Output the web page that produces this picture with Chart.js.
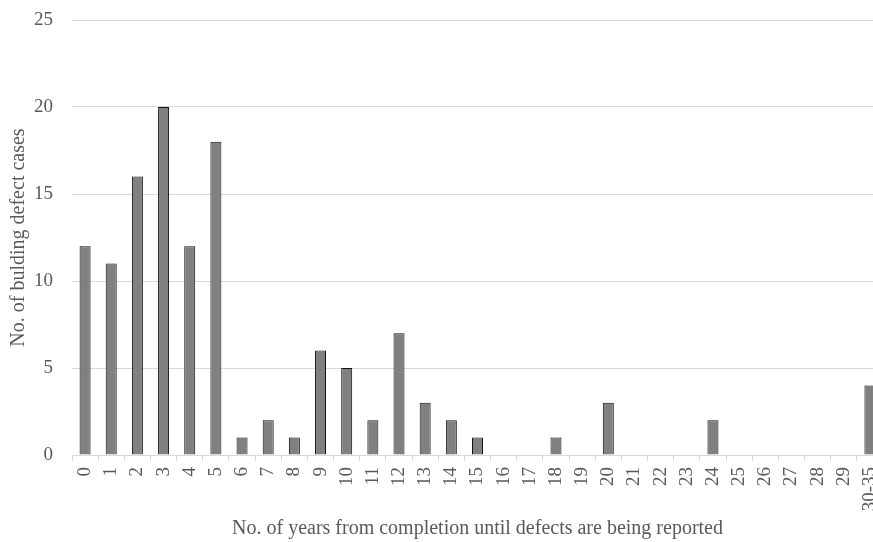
<!DOCTYPE html>
<html>
<head>
<meta charset="utf-8">
<script src="https://cdn.jsdelivr.net/npm/chart.js@4"></script>
<style>
  html, body { margin: 0; padding: 0; background: #fff; overflow: hidden; }
  #wrap { width: 873px; height: 542px; }
</style>
</head>
<body>
<div id="wrap"><canvas id="chart" width="873" height="542"></canvas></div>
<script>
// years from completion (last bucket groups 30-35)
const years = ['0','1','2','3','4','5','6','7','8','9','10','11','12','13','14','15',
  '16','17','18','19','20','21','22','23','24','25','26','27','28','29','30-35'];
// number of defect cases per year
const defectCases = [12, 11, 16, 20, 12, 18, 1, 2, 1, 6, 5, 2, 7, 3, 2, 1,
  0, 0, 1, 0, 3, 0, 0, 0, 2, 0, 0, 0, 0, 0, 4];
const yTicks = [0, 5, 10, 15, 20, 25];

const serif = 'Times New Roman, Liberation Serif, serif';
const textGrey = '#595959';
const lineGrey = '#d9d9d9';

// the original plot area runs a little past the right edge of the picture
const fixArea = {
    id: 'fixArea',
    afterLayout(chart) {
        const area = chart.chartArea;
        area.top = 20;
        area.right = 873;
        area.width = area.right - area.left;
        area.height = area.bottom - area.top;

        const x = chart.scales.x;
        x.right = x.left + 811;
        x.width = 811;
        x.configure();

        const y = chart.scales.y;
        y.top = 20;
        y.height = y.bottom - y.top;
        y.configure();
    }
};

const ctx = document.getElementById('chart').getContext('2d');
new Chart(ctx, {
    type: 'bar',
    data: {
        labels: years,
        datasets: [{
            data: defectCases,
            backgroundColor: '#808080',
            borderColor: '#111111',
            borderWidth: 1,
            barPercentage: 0.42,
            categoryPercentage: 1
        }]
    },
    options: {
        responsive: false,
        animation: false,
        layout: { padding: { top: 10, left: 0, right: 0, bottom: 0 } },
        plugins: { legend: { display: false }, tooltip: { enabled: false } },
        scales: {
            x: {
                offset: true,
                grid: {
                    offset: true,
                    drawOnChartArea: false,
                    drawTicks: true,
                    tickLength: 6,
                    color: lineGrey
                },
                border: { display: true, color: lineGrey },
                ticks: {
                    color: textGrey,
                    font: { family: serif, size: 19 },
                    minRotation: 90,
                    maxRotation: 90,
                    autoSkip: false,
                    padding: 6
                },
                title: {
                    display: true,
                    text: 'No. of years from completion until defects are being reported',
                    color: textGrey,
                    font: { family: serif, size: 20 },
                    padding: { top: 4, bottom: 1 }
                },
                afterFit: (scale) => { scale.height = 87; }
            },
            y: {
                min: 0,
                max: 25,
                afterBuildTicks: (scale) => { scale.ticks = yTicks.map(v => ({ value: v })); },
                grid: { color: lineGrey, drawTicks: false },
                border: { display: false },
                ticks: {
                    color: textGrey,
                    font: { family: serif, size: 19 },
                    padding: 19
                },
                title: {
                    display: true,
                    text: 'No. of bulding defect cases',
                    color: textGrey,
                    font: { family: serif, size: 20 },
                    padding: { top: 7, bottom: 4 }
                },
                afterFit: (scale) => { scale.width = 72; }
            }
        }
    },
    plugins: [fixArea]
});
</script>
</body>
</html>
